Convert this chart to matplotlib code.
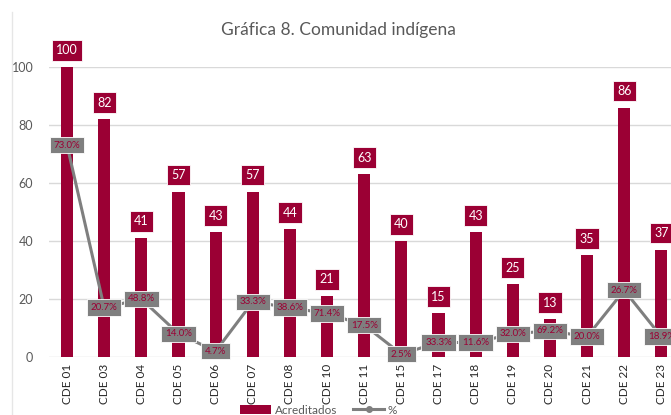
import matplotlib
matplotlib.use("Agg")
import matplotlib.pyplot as plt
from matplotlib.lines import Line2D

# data
cde = ['CDE 01', 'CDE 03', 'CDE 04', 'CDE 05', 'CDE 06', 'CDE 07', 'CDE 08', 'CDE 10', 'CDE 11',
       'CDE 15', 'CDE 17', 'CDE 18', 'CDE 19', 'CDE 20', 'CDE 21', 'CDE 22', 'CDE 23']
acreditados = [100, 82, 41, 57, 43, 57, 44, 21, 63, 40, 15, 43, 25, 13, 35, 86, 37]
indigenas = [73, 17, 20, 8, 2, 19, 17, 15, 11, 1, 5, 5, 8, 9, 7, 23, 7]
pct_labels = ['73.0%', '20.7%', '48.8%', '14.0%', '4.7%', '33.3%', '38.6%', '71.4%', '17.5%',
              '2.5%', '33.3%', '11.6%', '32.0%', '69.2%', '20.0%', '26.7%', '18.9%']

RED = '#9B0034'
GRAY = '#7F7F7F'
plt.rcParams['font.family'] = ['Lato', 'DejaVu Sans']

fig = plt.figure(figsize=(6.71, 4.15), dpi=100)
ax = fig.add_axes([0.0723, 0.1398, 0.941, 0.6988])

x = list(range(len(cde)))
bars = ax.bar(x, acreditados, width=0.33, color=RED, zorder=2, label='Acreditados')
line, = ax.plot(x, indigenas, color=GRAY, lw=2.2, marker='o', ms=4, zorder=3, label='%')

for xi, v in zip(x, acreditados):
    ax.annotate(str(v), (xi, v), xytext=(0, 12), textcoords='offset points',
                ha='center', va='center', color='white', fontsize=9, zorder=5,
                annotation_clip=False,
                bbox=dict(boxstyle='square,pad=0.35', fc=RED, ec='white', lw=0.6))

for xi, v, lab in zip(x, indigenas, pct_labels):
    ax.annotate(lab, (xi, v), xytext=(0, 0), textcoords='offset points',
                ha='center', va='center', color=RED, fontsize=7, zorder=6,
                annotation_clip=False,
                bbox=dict(boxstyle='square,pad=0.38', fc=GRAY, ec='white', lw=0.6))

ax.set_xlim(-0.5, len(cde) - 0.5)
ax.set_ylim(0, 100)
ax.set_yticks([0, 20, 40, 60, 80, 100])
ax.set_xticks(x)
ax.set_xticklabels(cde, rotation=90, fontsize=8.5, color='#262626')
ax.tick_params(axis='y', labelsize=9, labelcolor='#595959', length=0, pad=11)
ax.tick_params(axis='x', length=0, pad=5)
ax.grid(axis='y', color='#D9D9D9', lw=1, zorder=0)
ax.set_axisbelow(True)
for s in ax.spines.values():
    s.set_visible(False)

fig.text(0.505, 0.928, 'Gráfica 8. Comunidad indígena', ha='center', va='center',
         fontsize=12.5, color='#595959')

fig.legend([bars, line], ['Acreditados', '%'], loc='center', bbox_to_anchor=(0.475, 0.012),
           ncol=2, frameon=False, fontsize=8.5, labelcolor='#595959', handlelength=2.6,
           columnspacing=1.4, handletextpad=0.3)

fig.add_artist(Line2D([0.018, 0.018], [0.0, 0.97], color='#E6E6E6', lw=1,
                      transform=fig.transFigure))

fig.savefig('out.png', dpi=100, facecolor='white')
